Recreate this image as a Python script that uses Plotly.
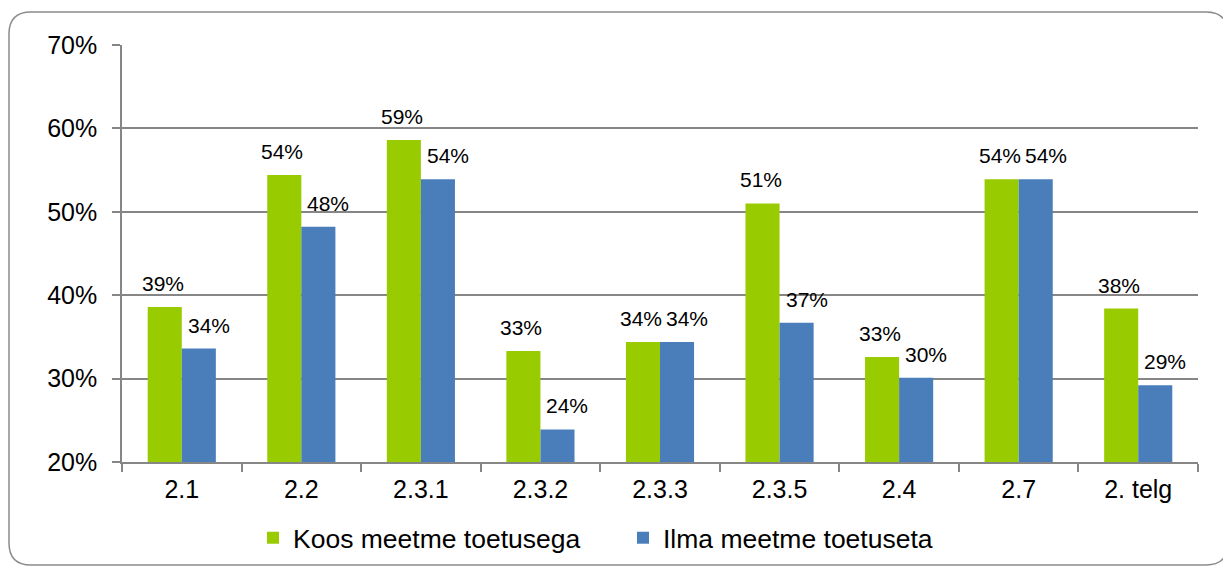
import plotly.graph_objects as go

categories = ["2.1", "2.2", "2.3.1", "2.3.2", "2.3.3", "2.3.5", "2.4", "2.7", "2. telg"]
koos = [38.6, 54.4, 58.6, 33.3, 34.4, 51.0, 32.6, 53.9, 38.4]
ilma = [33.6, 48.2, 53.9, 23.9, 34.4, 36.7, 30.1, 53.9, 29.2]
series_names = ["Koos meetme toetusega", "Ilma meetme toetuseta"]
colors = ["#99CC00", "#4A7EBB"]
y_ticks = [20, 30, 40, 50, 60, 70]
y_tick_text = [f"{t}%" for t in y_ticks]

# page is drawn with the browser's 8px body margin, so the figure is 8px smaller
W, H = 1223, 559
ML, MR, MT, MB = 114, 33, 37, 105
FONT = "Liberation Sans, Arial, sans-serif"

fig = go.Figure()
for name, vals, col in zip(series_names, [koos, ilma], colors):
    fig.add_trace(go.Bar(
        x=categories, y=vals, name=name,
        marker=dict(color=col, line=dict(width=0)),
    ))

# data labels (x given as category index so "2.1" is not read as a number)
label_shift = [-19, 27]
for k, vals in enumerate([koos, ilma]):
    for i, v in enumerate(vals):
        fig.add_annotation(
            x=i, y=v, xref="x", yref="y", text=f"{round(v):d}%",
            showarrow=False, xanchor="center", yanchor="bottom",
            xshift=label_shift[k], yshift=10,
            font=dict(family=FONT, size=21, color="#000000"),
        )

# outer rounded frame in paper coords
pw = W - ML - MR
ph = H - MT - MB
def px(x):
    return (x - ML) / pw
def py(y):
    return 1 - (y - MT) / ph
x0, x1, y0, y1, r = 1, 1220, 4, 557, 22
path = (f"M {px(x0+r)},{py(y0)} L {px(x1-r)},{py(y0)} Q {px(x1)},{py(y0)} {px(x1)},{py(y0+r)} "
        f"L {px(x1)},{py(y1-r)} Q {px(x1)},{py(y1)} {px(x1-r)},{py(y1)} "
        f"L {px(x0+r)},{py(y1)} Q {px(x0)},{py(y1)} {px(x0)},{py(y1-r)} "
        f"L {px(x0)},{py(y0+r)} Q {px(x0)},{py(y0)} {px(x0+r)},{py(y0)} Z")
fig.add_shape(type="path", path=path, xref="paper", yref="paper",
              line=dict(color="#8C8C8C", width=1.5), layer="below")

fig.update_layout(
    width=W, height=H,
    margin=dict(l=ML, r=MR, t=MT, b=MB, autoexpand=False),
    paper_bgcolor="white", plot_bgcolor="white",
    barmode="group", bargap=0.43, bargroupgap=0,
    font=dict(family=FONT, color="#000000"),
    showlegend=True,
    legend=dict(
        orientation="h", xref="container", yref="container",
        x=245 / W, xanchor="left", y=1 - 530 / H, yanchor="middle",
        font=dict(family=FONT, size=26.5, color="#000000"),
        bgcolor="rgba(0,0,0,0)", itemwidth=30, entrywidth=325,
    ),
    xaxis=dict(
        type="category", showline=True, linecolor="#868686", linewidth=1.5,
        ticks="outside", tickson="boundaries", ticklen=8, tickcolor="#868686", tickwidth=1.5,
        tickfont=dict(family=FONT, size=25, color="#000000"),
        ticklabelstandoff=4,
        showgrid=False, zeroline=False, automargin=False,
    ),
    yaxis=dict(
        range=[20, 70], tickmode="array", tickvals=y_ticks, ticktext=y_tick_text,
        showline=True, linecolor="#868686", linewidth=1.5,
        ticks="outside", ticklen=8, tickcolor="#868686", tickwidth=1.5,
        showgrid=True, gridcolor="#868686", gridwidth=1.5,
        tickfont=dict(family=FONT, size=25, color="#000000"),
        ticklabelstandoff=10, zeroline=False, automargin=False,
    ),
)

fig.write_html("out.html")
